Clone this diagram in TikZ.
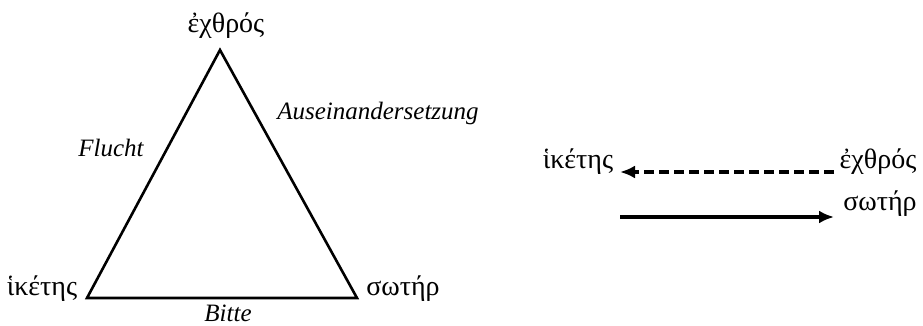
\documentclass[tikz,border=0pt]{standalone}
\usepackage{fontspec}
\setmainfont{Liberation Serif}
\usetikzlibrary{arrows.meta}
\tikzset{
  lbl/.style={inner sep=0pt, anchor=base, font=\fontsize{28}{32}\selectfont},
  ilbl/.style={inner sep=0pt, anchor=base, font=\fontsize{25}{29}\selectfont\itshape},
  tri/.style={line width=2.6pt, line join=miter},
  arr/.style={line width=3.4pt, -{Latex[length=15pt,width=13pt]}},
}
\begin{document}
\begin{tikzpicture}[x=1pt,y=-1pt]
\useasboundingbox (0,0) rectangle (923,326);
\coordinate (T) at (220,50);
\coordinate (L) at (87,298);
\coordinate (R) at (357,298);
\draw[tri] (T) -- (R) -- (L) -- cycle;
\node[lbl] (ech) at (226,33) {ἐχθρός};
\node[lbl] (hik) at (42,295) {ἱκέτης};
\node[lbl] (sot) at (403,295) {σωτήρ};
\node[ilbl] (fl) at (111,157) {Flucht};
\node[ilbl] (aus) at (378,120) {Auseinandersetzung};
\node[ilbl] (bi) at (228,321) {Bitte};
% right diagram
\node[lbl] (hik2) at (578,168) {ἱκέτης};
\node[lbl] (ech2) at (878,168) {ἐχθρός};
\node[lbl] (sot2) at (880,210) {σωτήρ};
\coordinate (d1) at (834,172);
\coordinate (d2) at (620,172);
\coordinate (s1) at (620,217);
\coordinate (s2) at (834,217);
\draw[arr, dash pattern=on 10pt off 5pt] (d1) -- (d2);
\draw[arr] (s1) -- (s2);
\end{tikzpicture}
\end{document}
